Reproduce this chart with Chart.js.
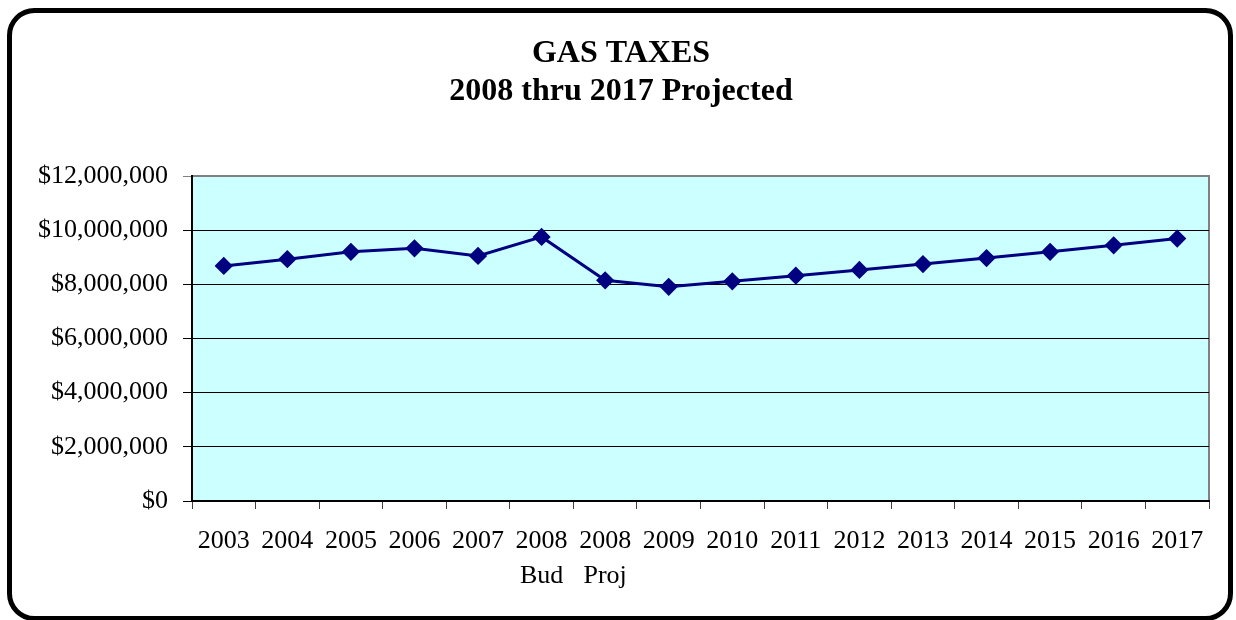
<!DOCTYPE html>
<html>
<head>
<meta charset="utf-8">
<script src="https://cdn.jsdelivr.net/npm/chart.js@4/dist/chart.umd.min.js"></script>
<style>
  html, body { margin: 0; padding: 0; background: #fff; }
  #wrap { width: 1236px; height: 620px; }
</style>
</head>
<body>
<div id="wrap"><canvas id="mycanvas" width="1236" height="620"></canvas></div>
<script>
// gas tax revenue, actuals + budget/projection
var years = ['2003', '2004', '2005', '2006', '2007', ['2008', 'Bud'], ['2008', 'Proj'],
  '2009', '2010', '2011', '2012', '2013', '2014', '2015', '2016', '2017'];
var gasTax = [8680000, 8930000, 9200000, 9330000, 9050000, 9750000, 8150000,
  7910000, 8110000, 8320000, 8530000, 8750000, 8970000, 9200000, 9440000, 9690000];
var yTicks = [0, 2000000, 4000000, 6000000, 8000000, 10000000, 12000000];
var titleLines = ['GAS TAXES', '2008 thru 2017 Projected'];

var serif = 'Liberation Serif';

// rounded frame round the whole chart, cyan plot background, title text
var framePlugin = {
  id: 'frame',
  beforeDraw: function(chart) {
    var c = chart.ctx, a = chart.chartArea;
    c.save();
    c.fillStyle = '#fff';
    c.fillRect(0, 0, chart.width, chart.height);
    c.fillStyle = '#CCFFFF';
    c.fillRect(a.left, a.top, a.right - a.left, a.bottom - a.top);
    c.strokeStyle = '#808080';
    c.lineWidth = 2;
    c.strokeRect(a.left, a.top, a.right - a.left, a.bottom - a.top);
    c.beginPath();
    c.lineWidth = 5;
    c.strokeStyle = '#000';
    c.roundRect(9.5, 10.5, 1221, 608, 25);
    c.stroke();

    c.fillStyle = '#000';
    c.font = 'bold 32px "' + serif + '"';
    c.textAlign = 'center';
    c.textBaseline = 'alphabetic';
    c.fillText(titleLines[0], 621, 62);
    c.fillText(titleLines[1], 621, 100);
    c.restore();
  }
};

var ctx = document.getElementById('mycanvas');
var lineGraph = new Chart(ctx, {
  type: 'line',
  data: {
    labels: years,
    datasets: [{
      label: 'Gas Taxes',
      data: gasTax,
      borderColor: '#000080',
      backgroundColor: '#000080',
      borderWidth: 3,
      pointStyle: 'rectRot',
      pointRadius: 7,
      pointHoverRadius: 7,
      tension: 0
    }]
  },
  options: {
    responsive: false,
    animation: false,
    layout: { padding: { left: 0, right: 27, top: 176, bottom: 0 } },
    plugins: {
      legend: { display: false },
      tooltip: { enabled: false },
      title: { display: false }
    },
    scales: {
      x: {
        offset: true,
        grid: { offset: true, drawOnChartArea: false, tickLength: 8, color: '#404040', lineWidth: 1 },
        border: { color: '#000', width: 2 },
        ticks: {
          color: '#000',
          maxRotation: 0,
          autoSkip: false,
          padding: 15,
          font: { family: serif, size: 26, lineHeight: 1.34 }
        },
        afterFit: function(s) { s.height = 119; }
      },
      y: {
        min: 0,
        max: 12000000,
        afterBuildTicks: function(s) {
          s.ticks = yTicks.map(function(v) { return { value: v }; });
        },
        grid: {
          tickLength: 9,
          color: function(c) { return c.tick && c.tick.value === 12000000 ? '#808080' : '#000'; },
          lineWidth: 1
        },
        border: { color: '#000', width: 2 },
        ticks: {
          color: '#000',
          padding: 15,
          font: { family: serif, size: 26 },
          callback: function(v) { return '$' + Number(v).toLocaleString('en-US'); }
        },
        afterFit: function(s) { s.width = 192; }
      }
    }
  },
  plugins: [framePlugin]
});
</script>
</body>
</html>
